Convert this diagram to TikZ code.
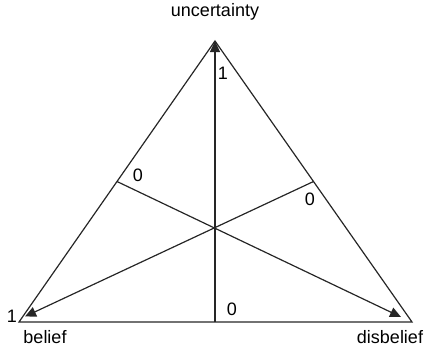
\documentclass[tikz,border=0pt]{standalone}
\usepackage{fontspec}
\setmainfont{Liberation Sans}
\usetikzlibrary{arrows.meta}
\begin{document}
\begin{tikzpicture}[x=1pt,y=-1pt,
  edge/.style={line width=1.2pt,draw=black!85},
  arr/.style={edge,-{Triangle[length=11pt,width=10pt]}},
  lbl/.style={inner sep=0pt,font=\fontsize{18}{21}\selectfont}]
\useasboundingbox (0,0) rectangle (434,354);
\coordinate (A) at (215,41);
\coordinate (L) at (19,322);
\coordinate (R) at (412,322);
\coordinate (B) at (215,322);
\coordinate (ML) at (117,181.5);
\coordinate (MR) at (313.5,181.5);
\coordinate (EL) at (25,316.5);
\coordinate (ER) at (401,317);
\draw[edge,line join=miter] (A) -- (L) -- (R) -- cycle;
\draw[arr] (B) -- (A);
\draw[arr] (MR) -- (EL);
\draw[arr] (ML) -- (ER);
\node[lbl] (unc) at (215,12) {uncertainty};
\node[lbl] (one1) at (223,73) {1};
\node[lbl] (zl) at (138,175) {0};
\node[lbl] (zr) at (310,199) {0};
\node[lbl] (zb) at (232,309) {0};
\node[lbl] (one2) at (12,316) {1};
\node[lbl] (bel) at (45,337) {belief};
\node[lbl] (dis) at (390,337) {disbelief};
\end{tikzpicture}
\end{document}
